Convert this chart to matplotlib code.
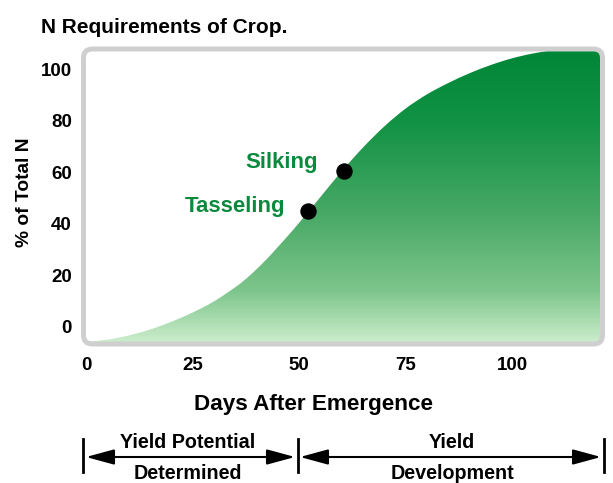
import numpy as np
import matplotlib
matplotlib.use("Agg")
import matplotlib.pyplot as plt
from matplotlib.patches import FancyBboxPatch, FancyArrowPatch, ArrowStyle, PathPatch
from matplotlib.path import Path
from matplotlib.transforms import IdentityTransform
from matplotlib.colors import LinearSegmentedColormap

plt.rcParams['font.family'] = ['Liberation Sans', 'DejaVu Sans']
plt.rcParams['font.weight'] = 'bold'

# ---- data ----
days = [0, 5, 10, 15, 20, 25, 30, 35, 37.5, 40, 42.5, 45, 47.5, 50, 55, 60,
        65, 70, 75, 80, 85, 90, 95, 100, 105, 110, 115, 122]
pct = [-5.8, -4.9, -3.3, -1.0, 2.0, 5.6, 9.9, 15.4, 18.6, 22.4, 26.5, 31.0,
       35.6, 40.4, 50.4, 60.4, 69.6, 77.8, 84.7, 90.2, 94.6, 98.4, 101.6,
       104.2, 106.1, 107.4, 108.4, 109.4]
stage_names = ["Tasseling", "Silking"]
stage_days = [52.1, 60.6]
stage_pct = [45.0, 60.5]
xticks = [0, 25, 50, 75, 100]
yticks = [0, 20, 40, 60, 80, 100]
phase_top = ["Yield Potential", "Yield"]
phase_bottom = ["Determined", "Development"]

W, H = 613, 483
fig = plt.figure(figsize=(W / 100, H / 100), dpi=100)
fig.patch.set_facecolor('white')

def fx(x):
    return x / W

def fy(y):
    return 1 - y / H

# axes frame in pixel coords (from top-left)
L, R, T, B = 83.5, 602.5, 49, 344
ax = fig.add_axes([L / W, (H - B) / H, (R - L) / W, (B - T) / H])
xlim = (-0.6, 121.2)
ylim = (-6.6, 107.8)
ax.set_xlim(*xlim)
ax.set_ylim(*ylim)
for s in ax.spines.values():
    s.set_visible(False)
ax.set_xticks(xticks)
ax.set_yticks(yticks)
ax.tick_params(length=0, labelsize=13.5, colors='black')
ax.tick_params(axis='x', pad=9.5)
ax.tick_params(axis='y', pad=8.3)
for lab in ax.get_xticklabels() + ax.get_yticklabels():
    lab.set_fontweight('bold')

# gradient fill
cmap = LinearSegmentedColormap.from_list(
    'g', [(0.0, (205/255, 238/255, 205/255)),
          (0.18, (125/255, 197/255, 140/255)),
          (0.45, (70/255, 168/255, 100/255)),
          (0.75, (18/255, 146/255, 68/255)),
          (1.0, (0/255, 134/255, 56/255))])
grad = np.linspace(0, 1, 256).reshape(-1, 1)
im = ax.imshow(grad, extent=[xlim[0], xlim[1], ylim[0], ylim[1]],
               origin='lower', aspect='auto', cmap=cmap, zorder=1)
clip = FancyBboxPatch((L, H - B), R - L, B - T,
                      boxstyle="round,pad=0,rounding_size=9",
                      transform=IdentityTransform(), facecolor='none',
                      edgecolor='none')
im.set_clip_path(clip)

# white above the curve: smooth cubic Bezier path through the read points
X = np.asarray(days, float)
Y = np.asarray(pct, float)
n = len(X)
m = np.empty(n)
m[0] = (Y[1] - Y[0]) / (X[1] - X[0])
m[-1] = (Y[-1] - Y[-2]) / (X[-1] - X[-2])
m[1:-1] = (Y[2:] - Y[:-2]) / (X[2:] - X[:-2])
verts = [(X[0], Y[0])]
codes = [Path.MOVETO]
for i in range(n - 1):
    h = X[i + 1] - X[i]
    verts += [(X[i] + h / 3, Y[i] + m[i] * h / 3),
              (X[i + 1] - h / 3, Y[i + 1] - m[i + 1] * h / 3),
              (X[i + 1], Y[i + 1])]
    codes += [Path.CURVE4] * 3
verts += [(X[-1], 200), (X[0] - 5, 200), (X[0] - 5, Y[0]), (X[0], Y[0])]
codes += [Path.LINETO, Path.LINETO, Path.LINETO, Path.CLOSEPOLY]
ax.add_patch(PathPatch(Path(verts, codes), facecolor='white', edgecolor='none',
                       lw=0, zorder=2, transform=ax.transData))
ax.set_xlim(*xlim)
ax.set_ylim(*ylim)

# stage markers
ax.plot(stage_days, stage_pct, 'o', color='black', markersize=10.8, zorder=5,
        clip_on=False)
green = '#0b8a3e'
ax.text(46.7, 44.6, stage_names[0], color=green, fontsize=16,
        fontweight='bold', ha='right', va='baseline', zorder=6)
ax.text(54.5, 61.6, stage_names[1], color=green, fontsize=16,
        fontweight='bold', ha='right', va='baseline', zorder=6)

# frame
frame = FancyBboxPatch((L, H - B), R - L, B - T,
                       boxstyle="round,pad=0,rounding_size=9",
                       transform=IdentityTransform(), facecolor='none',
                       edgecolor='#cfcfcf', linewidth=3.6, zorder=10)
fig.add_artist(frame)

# titles and labels
fig.text(fx(41), fy(33), "N Requirements of Crop.", fontsize=15,
         fontweight='bold', ha='left', va='baseline')
fig.text(fx(25), fy(192.5), "% of Total N", fontsize=13.8, fontweight='bold',
         rotation=90, ha='center', va='center')
fig.text(fx(314), fy(410), "Days After Emergence", fontsize=16.2,
         fontweight='bold', ha='center', va='baseline')

# phase bars and arrows
for bx in [83, 298, 604]:
    fig.add_artist(plt.Line2D([fx(bx), fx(bx)], [fy(439), fy(472)],
                              color='black', lw=2.0,
                              transform=fig.transFigure))
astyle = ArrowStyle('<|-|>', head_length=17.3, head_width=4.7)
for (x0, x1) in [(86, 295), (300, 601)]:
    arr = FancyArrowPatch((x0, H - 457), (x1, H - 457), arrowstyle=astyle,
                          transform=IdentityTransform(), color='black',
                          lw=1.5, shrinkA=0, shrinkB=0, mutation_scale=1)
    fig.add_artist(arr)

for cx, t in zip([187.5, 452], phase_top):
    fig.text(fx(cx), fy(448), t, fontsize=14.2, fontweight='bold',
             ha='center', va='baseline')
for cx, t in zip([188, 452.5], phase_bottom):
    fig.text(fx(cx), fy(479), t, fontsize=14.2, fontweight='bold',
             ha='center', va='baseline')

fig.savefig('out.png', dpi=100)
